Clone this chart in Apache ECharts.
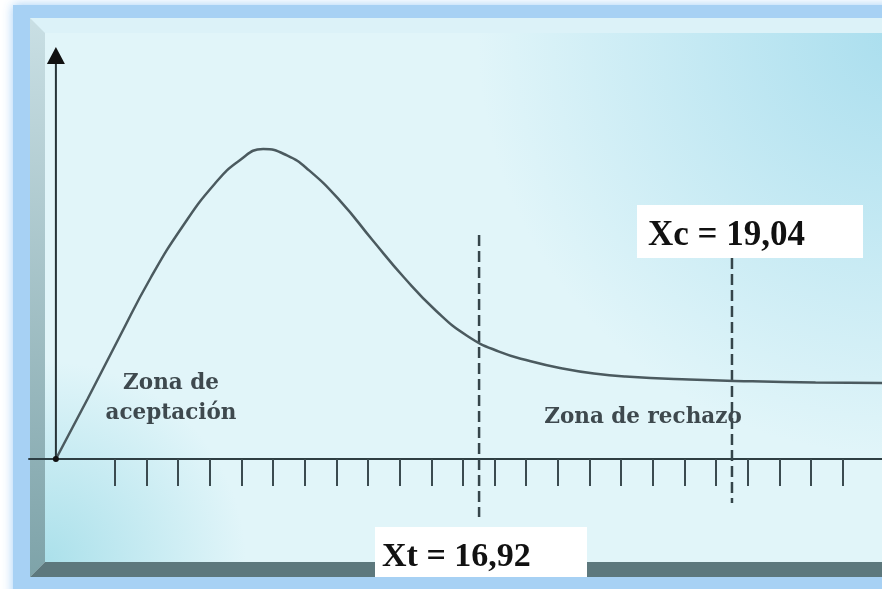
<!DOCTYPE html>
<html>
<head>
<meta charset="utf-8">
<script src="https://cdn.jsdelivr.net/npm/echarts@6/dist/echarts.min.js"></script>
<style>
  html, body { margin: 0; padding: 0; background: #fff; }
  #main { width: 882px; height: 589px; }
</style>
</head>
<body>
<div id="main"></div>
<script>
  // curva (unidades de eje)
  var curveX = [0, 1, 2, 3, 4, 5, 5.8, 6.55, 7.3, 8, 9, 10, 11, 12, 13, 14, 15, 16, 17, 18, 20, 22, 24, 26.1];
  var curveY = [0, 0.2, 0.405, 0.605, 0.775, 0.915, 0.995, 1.033, 1.012, 0.962, 0.858, 0.73, 0.605, 0.495, 0.41, 0.358, 0.326, 0.302, 0.285, 0.275, 0.265, 0.259, 0.255, 0.253];

  // marcas del eje x
  var tickPositions = [1.86, 2.86, 3.86, 4.86, 5.86, 6.86, 7.86, 8.86, 9.86, 10.86, 11.86, 12.86,
                       13.86, 14.86, 15.86, 16.86, 17.86, 18.86, 19.86, 20.86, 21.86, 22.86, 23.86, 24.86];

  // lineas criticas: Xt y Xc
  var criticalNames = ['Xt = 16,92', 'Xc = 19,04'];
  var criticalX = [13.37, 21.36];
  var criticalTop = [0.747, 0.67];
  var criticalBottom = [-0.193, -0.147];

  var zoneLabels = ['Zona de\naceptación', 'Zona de rechazo'];

  var arrowTop = 1.345;

  var myChart = echarts.init(document.getElementById('main'));

  var curveData = curveX.map(function (x, i) { return [x, curveY[i]]; });

  var dashedSeries = criticalX.map(function (x, i) {
    return {
      name: criticalNames[i],
      type: 'line',
      symbol: 'none',
      silent: true,
      z: 3,
      lineStyle: { color: '#35454a', width: 2.5, type: [11, 5] },
      data: [[x, criticalTop[i]], [x, criticalBottom[i]]]
    };
  });

  var option = {
    backgroundColor: '#ffffff',
    animation: false,
    grid: { left: 29, right: 0, top: 39, bottom: 70 },
    xAxis: {
      type: 'value',
      min: -0.85,
      max: 26.1,
      axisLine: { onZero: true, lineStyle: { color: '#2e3e43', width: 2 } },
      axisTick: {
        show: true,
        customValues: tickPositions,
        length: 27,
        lineStyle: { color: '#3b4b50', width: 2 }
      },
      axisLabel: { show: false },
      splitLine: { show: false }
    },
    yAxis: {
      type: 'value',
      min: -0.2,
      max: 1.4,
      show: false
    },
    graphic: [
      // marco exterior azul
      { type: 'rect', z: -10, shape: { x: 13, y: 5, width: 900, height: 600 },
        style: { fill: '#a7d1f4', shadowBlur: 10, shadowColor: 'rgba(150,200,245,0.9)' } },
      // panel
      { type: 'rect', z: -9, shape: { x: 30, y: 18, width: 870, height: 559 },
        style: { fill: '#dcf2f8' } },
      // bisel izquierdo
      { type: 'polygon', z: -8, shape: { points: [[30, 18], [45, 33], [45, 562], [30, 577]] },
        style: { fill: { type: 'linear', x: 0, y: 0, x2: 0, y2: 1,
          colorStops: [{ offset: 0, color: '#c9dfe4' }, { offset: 1, color: '#7ea3a9' }] } } },
      // bisel inferior
      { type: 'polygon', z: -8, shape: { points: [[30, 577], [45, 562], [900, 562], [900, 577]] },
        style: { fill: '#5d787d' } },
      // interior
      { type: 'rect', z: -7, shape: { x: 45, y: 33, width: 855, height: 529 },
        style: { fill: '#e1f5f9' } },
      { type: 'rect', z: -6, shape: { x: 45, y: 33, width: 855, height: 529 },
        style: { fill: { type: 'radial', x: 1, y: 0, r: 0.8,
          colorStops: [{ offset: 0, color: 'rgba(160,218,236,0.85)' }, { offset: 1, color: 'rgba(160,218,236,0)' }] } } },
      { type: 'rect', z: -6, shape: { x: 45, y: 33, width: 855, height: 529 },
        style: { fill: { type: 'radial', x: 0, y: 1, r: 0.38,
          colorStops: [{ offset: 0, color: 'rgba(165,222,233,0.9)' }, { offset: 1, color: 'rgba(165,222,233,0)' }] } } },
      // textos de zonas
      { type: 'text', z: 50, x: 171, y: 398,
        style: { text: zoneLabels[0], fill: '#3e494e', font: 'bold 21.5px "DejaVu Serif"',
          align: 'center', verticalAlign: 'middle', lineHeight: 30 } },
      { type: 'text', z: 50, x: 643, y: 417,
        style: { text: zoneLabels[1], fill: '#3e494e', font: 'bold 21.5px "DejaVu Serif"',
          align: 'center', verticalAlign: 'middle' } },
      // cuadros de valores
      { type: 'rect', z: 60, shape: { x: 375, y: 527, width: 212, height: 50 }, style: { fill: '#ffffff' } },
      { type: 'text', z: 61, x: 382, y: 557,
        style: { text: criticalNames[0], fill: '#111', font: 'bold 34px "Liberation Serif"',
          align: 'left', verticalAlign: 'middle' } },
      { type: 'rect', z: 60, shape: { x: 637, y: 205, width: 226, height: 53 }, style: { fill: '#ffffff' } },
      { type: 'text', z: 61, x: 648, y: 236,
        style: { text: criticalNames[1], fill: '#111', font: 'bold 35px "Liberation Serif"',
          align: 'left', verticalAlign: 'middle' } }
    ],
    series: [
      {
        name: 'curva',
        type: 'line',
        smooth: 0.5,
        symbol: 'none',
        silent: true,
        z: 4,
        lineStyle: { color: '#4b5a5f', width: 2.5 },
        data: curveData
      },
      {
        name: 'eje y',
        type: 'line',
        symbol: 'none',
        silent: true,
        z: 5,
        lineStyle: { color: '#263438', width: 2 },
        itemStyle: { color: '#111' },
        data: [
          { value: [0, 0], symbol: 'circle', symbolSize: 6 },
          { value: [0, arrowTop], symbol: 'triangle', symbolSize: [18, 17] }
        ]
      }
    ].concat(dashedSeries)
  };

  myChart.setOption(option);
</script>
</body>
</html>
